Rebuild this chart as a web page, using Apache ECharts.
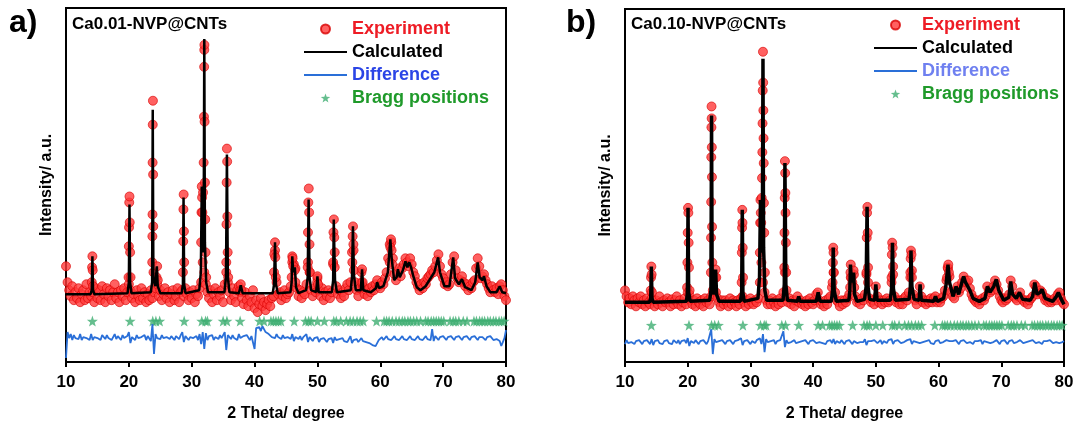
<!DOCTYPE html>
<html>
<head>
<meta charset="utf-8">
<script src="https://cdn.jsdelivr.net/npm/echarts@6/dist/echarts.min.js"></script>
<style>
  html, body { margin: 0; padding: 0; background: #fff; }
  #chart { width: 1078px; height: 427px; }
</style>
</head>
<body>
<div id="chart"></div>
<script>
// sampling of the gridded arrays (2 theta, degree)
var thetaStart = 10
var thetaStep = 0.25

// ---- panel a: Ca0.01-NVP@CNTs ----
var expA = [
  96, 80, 72, 66,  76, 62, 70, 64,  74, 60, 68, 72,  62, 78, 64, 70,  66, 70, 60, 74,
  64, 72, 62, 76,  68, 60, 74, 66,  72, 62, 70, 78,  64, 70, 60, 72,  66, 74, 62, 70,
  78, 72, 64, 68,  60, 72, 66, 62,  74, 64, 70, 60,  68, 62, 72, 64,  70, 74, 78, 66,
  72, 62, 68, 74,  64, 70, 60, 68,  72, 62, 66, 74,  60, 70, 72, 66,  74, 68, 62, 70,
  64, 72, 60, 68,  66, 74, 80, 100, 90, 78, 70, 64,  72, 60, 68, 74,  62, 70, 66, 72,
  60, 78, 90, 80,  70, 62, 74, 66,  60, 72, 76, 70,  64, 58, 70, 62,  56, 66, 60, 72,
  54, 62, 50, 58,  64, 56, 60, 52,  58, 62, 56, 64,  66, 112, 80, 68, 70, 62, 66, 72,
  64, 68, 70, 76,  100, 98, 94, 74, 66, 72, 64, 70,  68, 78, 100, 90, 72, 66, 74, 70,
  84, 72, 66, 74,  62, 70, 66, 72,  64, 70, 98, 110, 76, 68, 72, 64, 70, 66, 74, 78,
  72, 80, 110, 112, 80, 72, 66, 74, 90, 76, 68, 72, 66, 74, 70, 76,  72, 78, 82, 76,
  74, 80, 78, 84,  90, 104, 118, 120, 104, 88, 82, 90, 94, 86, 94, 98, 104, 100, 96, 104,
  98, 90, 86, 80,  76, 72, 78, 74,  80, 78, 84, 86,  88, 92, 90, 96,  102, 108, 96, 88,
  84, 78, 80, 76,  78, 88, 100, 106, 92, 84, 80, 82, 86, 80, 76, 78,  72, 76, 74, 80,
  82, 94, 104, 96, 84, 86, 88, 82,  78, 74, 70, 76,  72, 70, 74, 68,  76, 78, 72, 66,
  62
]
var expPeaksA = [
  [14.1, 80], [14.15, 95], [14.2, 106], [14.25, 92], [14.3, 76],
  [19.95, 85], [20.0, 116], [20.03, 135], [20.06, 160], [20.1, 166], [20.14, 140], [20.2, 110], [20.27, 85],
  [23.72, 100], [23.74, 126], [23.76, 148], [23.78, 200], [23.8, 238], [23.83, 262], [23.86, 188], [23.88, 136], [23.92, 90],
  [24.4, 85], [24.5, 96], [24.6, 82],
  [28.6, 90], [28.65, 121], [28.68, 153], [28.72, 168], [28.76, 131], [28.8, 100],
  [31.5, 120], [31.55, 150], [31.6, 176], [31.65, 165], [31.7, 150], [31.8, 170], [31.9, 200], [31.95, 246],
  [31.98, 296], [32.0, 313], [32.02, 318], [32.05, 241], [32.1, 180], [32.15, 143], [32.2, 110], [32.3, 85],
  [35.5, 100], [35.53, 138], [35.56, 180], [35.6, 214], [35.64, 201], [35.67, 146], [35.72, 110], [35.8, 85],
  [37.7, 72], [37.8, 78], [37.9, 72],
  [43.1, 90], [43.15, 108], [43.25, 120], [43.3, 105], [43.38, 85],
  [45.9, 85], [46.0, 106], [46.05, 104], [46.15, 96], [46.4, 92], [46.5, 80],
  [48.45, 95], [48.5, 130], [48.55, 160], [48.62, 174], [48.68, 150], [48.74, 118], [48.8, 90],
  [49.95, 80], [50.0, 86], [50.1, 78],
  [52.5, 100], [52.55, 130], [52.62, 143], [52.68, 125], [52.75, 95],
  [55.55, 100], [55.6, 126], [55.66, 136], [55.72, 118], [55.8, 92],
  [57.0, 80], [57.1, 93], [57.2, 80],
  [61.5, 100], [61.6, 115], [61.7, 123], [61.8, 112], [61.9, 98]
]
var calcA = [
  [10, 68], [13.9, 68], [14.1, 72], [14.2, 106], [14.3, 72], [14.5, 68],
  [19.8, 69], [20.0, 80], [20.1, 158], [20.2, 80], [20.4, 69],
  [23.5, 70], [23.7, 80], [23.8, 253], [23.9, 85], [24.2, 76], [24.45, 96], [24.6, 76], [25.0, 69],
  [28.4, 69], [28.6, 78], [28.7, 165], [28.8, 78], [29.0, 69],
  [31.2, 72], [31.45, 90], [31.6, 176], [31.75, 110], [31.9, 120], [32.0, 324], [32.1, 120], [32.3, 80], [32.6, 70],
  [35.2, 70], [35.45, 85], [35.6, 208], [35.75, 85], [36.0, 70],
  [37.5, 69], [37.8, 77], [38.1, 69],
  [42.9, 69], [43.1, 78], [43.25, 120], [43.4, 78], [43.7, 69],
  [45.7, 70], [45.9, 80], [46.0, 106], [46.15, 90], [46.4, 95], [46.6, 75], [47.0, 69],
  [48.2, 72], [48.45, 85], [48.6, 163], [48.75, 85], [49.0, 72],
  [49.8, 70], [50.0, 86], [50.2, 70],
  [52.3, 70], [52.5, 82], [52.6, 143], [52.7, 110], [52.8, 82], [53.1, 70],
  [55.3, 72], [55.5, 85], [55.65, 136], [55.8, 88], [56.1, 72],
  [56.9, 72], [57.1, 93], [57.3, 72], [58.5, 70], [59.3, 74], [59.5, 80], [59.8, 74],
  [60.5, 76], [61.2, 90], [61.6, 123], [61.8, 105], [62.2, 82], [62.6, 85], [62.8, 93], [63.1, 85],
  [63.6, 92], [64.0, 101], [64.3, 95], [64.6, 100], [64.9, 95], [65.3, 85], [65.8, 75], [66.4, 72],
  [67.2, 76], [68.0, 84], [68.6, 90], [69.2, 105], [69.5, 90], [70.2, 76],
  [71.0, 76], [71.6, 105], [71.9, 84], [72.5, 78], [73.0, 83], [73.5, 75], [74.5, 72],
  [75.1, 80], [75.5, 100], [75.8, 85], [76.3, 82], [76.5, 86], [76.9, 76], [77.5, 70],
  [78.5, 70], [79.0, 76], [79.4, 70], [80, 69]
]
var diffA = [
  4, 30, 24, 28,  22, 27, 24, 26,  23, 28, 22, 25,  27, 24, 26, 22,  28, 22, 25, 27,
  24, 26, 22, 27,  25, 23, 27, 24,  26, 22, 25, 28,  23, 26, 24, 22,  27, 24, 22, 26,
  30, 19, 25, 24,  22, 27, 24, 26,  25, 23, 27, 22,  26, 24, 21, 38,  8, 28, 24, 26,
  23, 27, 24, 22,  25, 27, 23, 26,  24, 22, 26, 25,  23, 27, 30, 20,  26, 24, 22, 25,
  27, 24, 23, 26,  22, 28, 18, 30,  13, 29, 22, 26,  24, 27, 22, 25,  26, 23, 27, 24,
  22, 30, 12, 27,  25, 23, 27, 24,  26, 22, 28, 24,  23, 26, 24, 27,  25, 22, 26, 24,
  13, 34, 32, 35,  31, 36, 33, 30,  32, 28, 29, 25,  27, 24, 28, 25,  26, 23, 27, 24,
  22, 25, 27, 23,  28, 21, 25, 24,  23, 26, 22, 25,  24, 28, 20, 25,  23, 21, 24, 22,
  25, 20, 23, 21,  24, 22, 20, 23,  21, 24, 19, 25,  22, 20, 23, 21,  24, 21, 22, 20,
  23, 26, 19, 22,  21, 23, 20, 22,  24, 21, 22, 20,  22, 19, 21, 17,  18, 16, 19, 22,
  23, 25, 22, 24,  26, 23, 25, 22,  24, 26, 23, 25,  22, 24, 26, 23,  25, 22, 24, 26,
  23, 25, 22, 24,  26, 23, 25, 22,  24, 26, 23, 25,  22, 33, 21, 26,  24, 22, 25, 23,
  26, 24, 22, 25,  23, 26, 24, 22,  25, 23, 26, 24,  22, 25, 23, 26,  24, 22, 25, 23,
  26, 24, 22, 25,  23, 25, 24, 22,  25, 23, 26, 24,  22, 24, 23, 25,  21, 16, 20, 24,
  32
]

// ---- panel b: Ca0.10-NVP@CNTs ----
var expB = [
  72, 66, 60, 64,  58, 66, 62, 56,  64, 60, 66, 58,  62, 56, 64, 60,  58, 64, 62, 56,
  62, 58, 66, 60,  56, 62, 60, 64,  60, 56, 63, 58,  62, 66, 58, 62,  56, 60, 64, 58,
  70, 68, 62, 58,  62, 56, 64, 60,  58, 62, 56, 64,  60, 62, 58, 66,  72, 68, 70, 64,
  60, 56, 62, 58,  62, 60, 56, 64,  58, 62, 60, 56,  62, 58, 64, 66,  60, 56, 62, 58,
  64, 60, 58, 62,  60, 64, 80, 100, 80, 70, 62, 58,  62, 58, 64, 60,  56, 62, 58, 64,
  60, 70, 90, 72,  60, 64, 58, 62,  56, 62, 66, 60,  62, 58, 60, 56,  62, 58, 64, 60,
  58, 62, 68, 70,  62, 58, 60, 56,  62, 58, 64, 66,  75, 90, 70, 62,  60, 56, 62, 58,
  62, 60, 64, 68,  85, 80, 88, 66,  60, 62, 58, 64,  62, 68, 88, 80,  64, 60, 62, 58,
  76, 66, 60, 62,  58, 62, 60, 64,  60, 62, 80, 96,  66, 60, 62, 58,  62, 58, 64, 66,
  62, 70, 90, 92,  68, 62, 58, 64,  76, 66, 60, 62,  58, 62, 60, 64,  60, 64, 66, 60,
  62, 60, 64, 66,  72, 82, 94, 86,  70, 66, 64, 72,  76, 70, 74, 80,  86, 82, 80, 82,
  74, 68, 64, 62,  60, 62, 58, 62,  64, 62, 66, 76,  72, 70, 72, 76,  82, 78, 72, 66,
  62, 60, 64, 62,  64, 68, 82, 76,  66, 64, 62, 66,  70, 64, 62, 60,  62, 58, 62, 64,
  66, 78, 76, 68,  70, 72, 70, 66,  62, 64, 60, 62,  60, 62, 64, 62,  68, 70, 64, 60,
  58
]
var expPeaksB = [
  [14.1, 72], [14.15, 85], [14.2, 96], [14.25, 88], [14.3, 70],
  [19.9, 75], [19.95, 100], [20.0, 130], [20.05, 155], [20.1, 150], [20.15, 120], [20.2, 95], [20.3, 72],
  [23.7, 90], [23.72, 125], [23.74, 161], [23.76, 206], [23.78, 236], [23.8, 257], [23.82, 245],
  [23.84, 216], [23.86, 186], [23.88, 136], [23.92, 100], [24.4, 85], [24.45, 93], [24.55, 85],
  [28.6, 80], [28.63, 110], [28.67, 135], [28.7, 153], [28.73, 140], [28.77, 115], [28.82, 85],
  [31.5, 110], [31.55, 140], [31.6, 163], [31.65, 150], [31.72, 140], [31.8, 165], [31.85, 185], [31.9, 211],
  [31.93, 240], [31.96, 273], [32.0, 312], [32.03, 281], [32.06, 253], [32.09, 225], [32.12, 200],
  [32.15, 160], [32.2, 130], [32.3, 90],
  [35.4, 95], [35.43, 130], [35.47, 165], [35.5, 202], [35.54, 190], [35.57, 170], [35.6, 150], [35.65, 120], [35.7, 90],
  [43.1, 80], [43.15, 100], [43.2, 115], [43.25, 110], [43.3, 90],
  [45.9, 75], [45.95, 90], [46.0, 98], [46.1, 85], [46.45, 92], [46.55, 75],
  [48.5, 90], [48.55, 125], [48.6, 150], [48.65, 156], [48.7, 130], [48.75, 95],
  [52.5, 85], [52.55, 108], [52.6, 120], [52.68, 115], [52.75, 88],
  [55.5, 85], [55.55, 104], [55.6, 112], [55.68, 108], [55.75, 85],
  [61.35, 85], [61.45, 95], [61.55, 98], [61.65, 90]
]
var calcB = [
  [10, 60], [13.9, 60], [14.1, 64], [14.2, 96], [14.3, 64], [14.5, 60],
  [19.8, 61], [19.95, 70], [20.05, 155], [20.15, 70], [20.4, 61],
  [23.5, 62], [23.7, 72], [23.8, 248], [23.9, 78], [24.2, 68], [24.45, 93], [24.6, 68], [25.0, 61],
  [28.4, 61], [28.6, 70], [28.7, 153], [28.8, 70], [29.0, 61],
  [31.2, 64], [31.45, 85], [31.6, 163], [31.75, 110], [31.9, 120], [32.0, 305], [32.1, 115], [32.3, 72], [32.6, 62],
  [35.2, 62], [35.4, 78], [35.5, 200], [35.65, 78], [35.9, 62],
  [37.5, 61], [37.7, 66], [37.9, 61], [40.5, 61], [40.8, 70], [41.1, 61],
  [42.9, 61], [43.1, 72], [43.2, 115], [43.35, 72], [43.7, 61],
  [45.7, 62], [45.85, 72], [45.95, 98], [46.1, 80], [46.45, 90], [46.6, 68], [47.0, 61],
  [48.2, 63], [48.45, 76], [48.6, 156], [48.75, 76], [49.0, 63],
  [49.8, 62], [50.0, 78], [50.2, 62],
  [52.3, 62], [52.5, 74], [52.65, 120], [52.8, 74], [53.1, 62],
  [55.3, 63], [55.5, 76], [55.6, 112], [55.75, 76], [56.1, 63],
  [56.9, 62], [57.05, 78], [57.25, 62], [59.2, 61], [59.5, 66], [59.8, 61],
  [60.8, 64], [61.2, 78], [61.5, 98], [61.75, 80], [62.3, 66], [62.8, 76], [63.2, 68],
  [63.8, 82], [64.0, 86], [64.3, 80], [64.6, 82], [65.0, 72], [65.5, 64], [66.5, 61],
  [67.4, 64], [67.8, 76], [68.2, 70], [68.8, 76], [69.2, 83], [69.6, 72], [70.4, 62],
  [71.2, 65], [71.5, 81], [71.8, 68], [72.4, 64], [72.9, 70], [73.4, 63], [74.6, 62],
  [75.0, 66], [75.35, 80], [75.7, 68], [76.2, 70], [76.5, 73], [77.0, 64],
  [78.2, 61], [78.8, 66], [79.1, 70], [79.5, 64], [80, 58]
]
var diffB = [
  18, 22, 19, 21,  20, 22, 18, 21,  19, 22, 20, 18,  21, 19, 22, 20,  18, 23, 17, 21,
  20, 22, 19, 21,  18, 21, 20, 22,  19, 21, 18, 22,  20, 19, 22, 18,  21, 20, 22, 19,
  24, 16, 21, 20,  19, 22, 20, 18,  21, 19, 22, 20,  18, 21, 20, 33,  8, 23, 20, 19,
  21, 19, 22, 20,  18, 21, 19, 22,  20, 18, 21, 19,  22, 20, 24, 17,  21, 19, 22, 20,
  18, 21, 20, 19,  22, 20, 24, 18,  28, 10, 23, 20,  19, 21, 20, 22,  18, 21, 19, 22,
  20, 31, 15, 22,  19, 21, 20, 18,  22, 19, 21, 20,  18, 21, 19, 22,  20, 18, 21, 19,
  22, 20, 19, 21,  20, 22, 19, 21,  18, 21, 20, 22,  19, 23, 18, 21,  20, 19, 22, 20,
  18, 21, 20, 22,  23, 18, 21, 20,  19, 21, 20, 22,  20, 23, 17, 21,  19, 21, 20, 22,
  21, 19, 20, 22,  18, 21, 20, 19,  22, 20, 23, 18,  21, 19, 22, 20,  19, 21, 20, 18,
  22, 20, 23, 18,  21, 19, 20, 22,  19, 21, 20, 18,  21, 20, 22, 19,  20, 18, 21, 20,
  22, 19, 21, 20,  18, 22, 20, 21,  19, 21, 20, 22,  20, 18, 21, 19,  22, 20, 19, 21,
  20, 22, 18, 21,  19, 21, 20, 22,  18, 21, 19, 20,  22, 19, 21, 20,  19, 22, 20, 18,
  21, 19, 22, 20,  18, 21, 20, 22,  19, 21, 20, 18,  22, 20, 19, 21,  20, 18, 21, 19,
  22, 20, 19, 21,  20, 22, 18, 21,  19, 21, 20, 22,  20, 19, 21, 20,  22, 19, 21, 20,
  21
]

// Bragg reflection positions (same phase in both samples) and the row they sit on
var braggPos = [
  14.2, 20.2, 23.8, 24.3, 24.9, 28.8, 31.6, 32.2, 32.5, 35.0, 35.6, 37.7, 40.8, 41.5,
  42.6, 43.0, 43.4, 43.8, 44.2, 46.3, 48.1, 48.6, 49.0, 50.0, 51.1, 52.6, 53.0, 53.7,
  54.6, 55.2, 55.7, 56.3, 56.8, 57.3, 59.4, 60.6, 61.0, 61.4, 61.9, 62.5, 63.0, 63.5,
  63.9, 64.4, 64.8, 65.3, 65.8, 66.4, 67.2, 67.6, 68.1, 68.5, 68.9, 69.3, 69.7, 70.1,
  71.1, 71.6, 72.0, 72.5, 73.2, 73.8, 74.9, 75.3, 75.8, 76.2, 76.6, 77.1, 77.5, 78.0,
  78.4, 78.9, 79.3, 79.7
]
var braggLevelA = 41
var braggLevelB = 37

var xTicks = [10, 20, 30, 40, 50, 60, 70, 80]

function gridded(vals) {
  return vals.map(function (v, i) { return [thetaStart + i * thetaStep, v] })
}
function braggRow(level) {
  return braggPos.map(function (p) { return [p, level] })
}

var FONT = '"Liberation Sans", Arial, sans-serif'
var STAR = 'path://M0,-10L2.35,-3.24L9.51,-3.09L3.8,1.24L5.88,8.09L0,4L-5.88,8.09L-3.8,1.24L-9.51,-3.09L-2.35,-3.24Z'
var HIDE_SYMBOL = { color: 'rgba(0,0,0,0)', borderColor: 'rgba(0,0,0,0)', borderWidth: 0 }

function xAxisFor(i) {
  return {
    type: 'value', gridIndex: i, min: xTicks[0], max: xTicks[xTicks.length - 1], interval: 10,
    name: '2 Theta/ degree', nameLocation: 'middle', nameGap: 44,
    nameTextStyle: { fontFamily: FONT, fontSize: 16, fontWeight: 'bold', color: '#000' },
    axisLine: { lineStyle: { color: '#000', width: 2 } },
    axisTick: { length: 5, lineStyle: { color: '#000', width: 2 } },
    axisLabel: { fontFamily: FONT, fontSize: 17, fontWeight: 'bold', color: '#000', margin: 12 },
    splitLine: { show: false }
  }
}
function yAxisFor(i) {
  return {
    type: 'value', gridIndex: i, min: 0, max: 355,
    name: 'Intensity/ a.u.', nameLocation: 'middle', nameGap: 11,
    nameTextStyle: { fontFamily: FONT, fontSize: 16, fontWeight: 'bold', color: '#000' },
    axisLine: { show: false }, axisTick: { show: false }, axisLabel: { show: false },
    splitLine: { show: false }
  }
}
function legendFor(left, top, diffColor) {
  return {
    orient: 'vertical', left: left, top: top, padding: 0,
    itemWidth: 43, itemHeight: 9, itemGap: 5,
    textStyle: { fontFamily: FONT, fontSize: 18, fontWeight: 'bold', lineHeight: 18 },
    selectedMode: false,
    data: [
      { name: 'Experiment', textStyle: { color: '#ee1c25' } },
      { name: 'Calculated', textStyle: { color: '#000' }, itemStyle: HIDE_SYMBOL },
      { name: 'Difference', textStyle: { color: diffColor }, itemStyle: HIDE_SYMBOL },
      { name: 'Bragg positions', textStyle: { color: '#1f9a2a' } }
    ]
  }
}
function panelSeries(i, exp, peaks, calc, diff, level, calcWidth) {
  return [
    {
      name: 'Experiment', type: 'scatter', xAxisIndex: i, yAxisIndex: i,
      symbol: 'circle', symbolSize: 9,
      itemStyle: { color: '#ff3a3a', borderColor: '#d80000', borderWidth: 0.8 },
      data: gridded(exp).concat(peaks)
    },
    {
      name: 'Calculated', type: 'line', xAxisIndex: i, yAxisIndex: i,
      symbol: 'none', lineStyle: { color: '#000', width: calcWidth },
      itemStyle: { color: '#000' }, data: calc
    },
    {
      name: 'Difference', type: 'line', xAxisIndex: i, yAxisIndex: i,
      symbol: 'none', lineStyle: { color: '#2a6fd8', width: 1.8 },
      itemStyle: { color: '#2a6fd8' }, data: gridded(diff)
    },
    {
      name: 'Bragg positions', type: 'scatter', xAxisIndex: i, yAxisIndex: i,
      symbol: STAR, symbolSize: 11, itemStyle: { color: '#3fae72' },
      data: braggRow(level)
    }
  ]
}

var chart = echarts.init(document.getElementById('chart'))
chart.setOption({
  animation: false,
  backgroundColor: '#fff',
  title: [
    { text: 'a)', left: 9, top: 7, padding: 0, textStyle: { fontFamily: FONT, fontSize: 32, fontWeight: 'bold', color: '#000' } },
    { text: 'Ca0.01-NVP@CNTs', left: 72, top: 16, padding: 0, textStyle: { fontFamily: FONT, fontSize: 17, fontWeight: 'bold', color: '#000' } },
    { text: 'b)', left: 566, top: 7, padding: 0, textStyle: { fontFamily: FONT, fontSize: 32, fontWeight: 'bold', color: '#000' } },
    { text: 'Ca0.10-NVP@CNTs', left: 631, top: 16, padding: 0, textStyle: { fontFamily: FONT, fontSize: 17, fontWeight: 'bold', color: '#000' } }
  ],
  legend: [legendFor(303, 20, '#2b45e6'), legendFor(873, 16, '#6f80f0')],
  grid: [
    { left: 66, right: 572, top: 8, bottom: 64, show: true, borderColor: '#000', borderWidth: 2 },
    { left: 625, right: 14, top: 9, bottom: 64, show: true, borderColor: '#000', borderWidth: 2 }
  ],
  xAxis: [xAxisFor(0), xAxisFor(1)],
  yAxis: [yAxisFor(0), yAxisFor(1)],
  series: panelSeries(0, expA, expPeaksA, calcA, diffA, braggLevelA, 2.5)
    .concat(panelSeries(1, expB, expPeaksB, calcB, diffB, braggLevelB, 3.5))
})
</script>
</body>
</html>
